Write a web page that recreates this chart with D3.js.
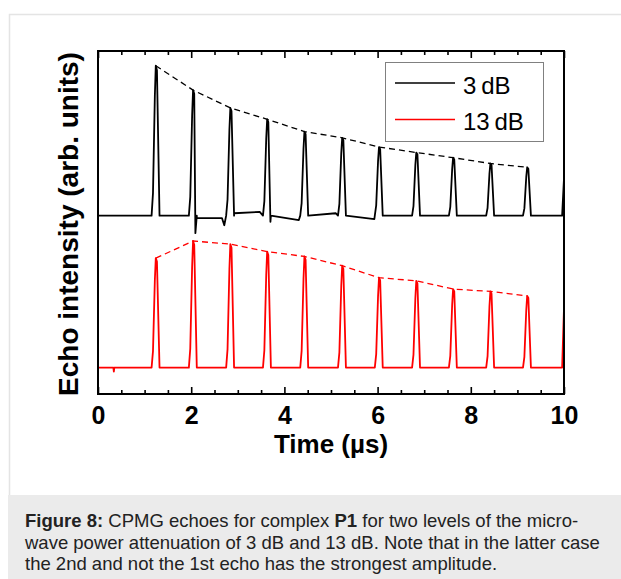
<!DOCTYPE html>
<html lang="en">
<head>
<meta charset="utf-8">
<script src="https://d3js.org/d3.v7.min.js"></script>
<style>
    body { margin: 0; background: #fff; }
    svg { display: block; font-family: "Liberation Sans", Arial, sans-serif; }
</style>
</head>
<body>
<script>

    // Echo positions (µs) and peak heights above each trace's baseline (arb. units)
    const echoTimes = [1.24, 2.04, 2.84, 3.63, 4.43, 5.24, 6.03, 6.83, 7.62, 8.42, 9.21];
    const amp3dB  = [4.37, 3.66, 3.14, 2.81, 2.45, 2.27, 2.00, 1.84, 1.69, 1.52, 1.41];
    const amp13dB = [3.19, 3.69, 3.60, 3.38, 3.24, 2.97, 2.62, 2.53, 2.29, 2.22, 2.09];

    // Baselines of the two (offset) traces
    const base3dB = 5.20;
    const base13dB = 0.77;

    // Pulse profile of one echo: [time offset, fraction of peak]
    const echoShape = [[-0.09, 0], [-0.06, 0.15], [-0.02, 0.8], [0, 1], [0.025, 0.97], [0.08, 0]];

    // Small glitches on the traces: [time, level relative to baseline]
    const glitch3dB = [[2.09, -0.51], [2.12, -0.07], [2.66, -0.07], [2.71, -0.28], [2.92, 0.07],
                       [3.47, 0.11], [3.70, -0.18], [4.31, -0.13], [5.10, 0.07], [5.93, -0.10]];
    const glitch13dB = [[0.33, 0], [0.34, -0.12], [0.35, 0]];

    // Start of the next echo, cut off at the right edge
    const edge3dB = [[9.96, 0], [10, 1.09]];
    const edge13dB = [[9.96, 0], [10, 1.74]];

    const xMajor = [0, 2, 4, 6, 8, 10];
    const xMinor = [0.5, 1, 1.5, 2.5, 3, 3.5, 4.5, 5, 5.5, 6.5, 7, 7.5, 8.5, 9, 9.5];

    const series = [
        {name: "3\u2009dB",  colour: "#000000", base: base3dB,  amps: amp3dB,  glitch: glitch3dB,  edge: edge3dB},
        {name: "13\u2009dB", colour: "#ff0000", base: base13dB, amps: amp13dB, glitch: glitch13dB, edge: edge13dB}
    ];

    const W = 621, H = 579;
    const margin = {top: 51, right: 57, bottom: 185, left: 98};
    const plotW = W - margin.left - margin.right;
    const plotH = H - margin.top - margin.bottom;

    const svg = d3.select("body").append("svg")
        .attr("width", W)
        .attr("height", H);

    // page frame and caption band
    svg.append("path")
        .attr("d", "M9.5,495 V14.5 H621")
        .attr("fill", "none")
        .attr("stroke", "#e4e4e4")
        .attr("stroke-width", 1.5);
    svg.append("rect")
        .attr("x", 8).attr("y", 495)
        .attr("width", W - 8).attr("height", H - 495)
        .attr("fill", "#ebebeb");

    const caption = svg.append("text")
        .attr("x", 25)
        .attr("font-size", 18.5)
        .attr("fill", "#222");
    const capLines = [
        [["Figure 8:", true], [" CPMG echoes for complex ", false], ["P1", true], [" for two levels of the micro-", false]],
        [["wave power attenuation of 3 dB and 13 dB. Note that in the latter case", false]],
        [["the 2nd and not the 1st echo has the strongest amplitude.", false]]
    ];
    capLines.forEach(function(line, i) {
        line.forEach(function(part, j) {
            const t = caption.append("tspan")
                .attr("font-weight", part[1] ? "bold" : "normal")
                .attr("xml:space", "preserve")
                .text(part[0]);
            if (j === 0) t.attr("x", 25).attr("y", 527 + i * 21.7);
        });
    });

    const g = svg.append("g")
        .attr("transform", "translate(" + margin.left + "," + margin.top + ")");

    // scales
    const x = d3.scaleLinear().domain([0, 10]).range([0, plotW]);
    const y = d3.scaleLinear().domain([0, 10]).range([plotH, 0]);

    g.append("clipPath").attr("id", "plotclip")
        .append("rect").attr("width", plotW).attr("height", plotH);

    // build each trace from the echo list
    function tracePoints(s) {
        let pts = [[0, 0]];
        echoTimes.forEach(function(t, i) {
            echoShape.forEach(function(p) {
                pts.push([t + p[0], p[1] * s.amps[i]]);
            });
        });
        pts = pts.concat(s.glitch, s.edge);
        pts.sort(function(a, b) { return a[0] - b[0]; });
        return pts.map(function(p) { return [p[0], s.base + p[1]]; });
    }

    const line = d3.line()
        .x(function(d) { return x(d[0]); })
        .y(function(d) { return y(d[1]); });

    const plot = g.append("g").attr("clip-path", "url(#plotclip)");

    series.forEach(function(s) {
        plot.append("path")
            .datum(tracePoints(s))
            .attr("d", line)
            .attr("fill", "none")
            .attr("stroke", s.colour)
            .attr("stroke-width", 1.8)
            .attr("stroke-linejoin", "round");

        // dashed envelope through the echo maxima
        plot.append("path")
            .datum(echoTimes.map(function(t, i) { return [t, s.base + s.amps[i]]; }))
            .attr("d", line)
            .attr("fill", "none")
            .attr("stroke", s.colour)
            .attr("stroke-width", 1.3)
            .attr("stroke-dasharray", "6,4");
    });

    // axes: ticks inward on bottom and top
    const fontTick = 25;
    function styleTicks(a) {
        a.select(".domain").remove();
        a.selectAll("line").attr("stroke", "#000").attr("stroke-width", 1.6);
    }
    g.append("g")
        .attr("class", "xaxis")
        .attr("transform", "translate(0," + plotH + ")")
        .call(d3.axisBottom(x).tickValues(xMajor).tickSize(-7).tickPadding(12).tickFormat(d3.format("d")))
        .call(styleTicks)
        .call(function(a) {
            a.selectAll("text").attr("font-size", fontTick).attr("font-weight", "bold")
                .attr("fill", "#000").attr("font-family", "Liberation Sans, Arial, sans-serif");
        });
    g.append("g")
        .attr("transform", "translate(0," + plotH + ")")
        .call(d3.axisBottom(x).tickValues(xMinor).tickSize(-4).tickFormat(""))
        .call(styleTicks);
    g.append("g")
        .call(d3.axisTop(x).tickValues(xMajor).tickSize(-7).tickFormat(""))
        .call(styleTicks);
    g.append("g")
        .call(d3.axisTop(x).tickValues(xMinor).tickSize(-4).tickFormat(""))
        .call(styleTicks);

    // frame
    g.append("rect")
        .attr("width", plotW)
        .attr("height", plotH)
        .attr("fill", "none")
        .attr("stroke", "#000")
        .attr("stroke-width", 2);

    // axis titles
    g.append("text")
        .attr("x", plotW / 2)
        .attr("y", plotH + 59)
        .attr("text-anchor", "middle")
        .attr("font-size", 26)
        .attr("font-weight", "bold")
        .text("Time (\u00b5s)");

    g.append("text")
        .attr("transform", "translate(-20," + (173) + ") rotate(-90)")
        .attr("text-anchor", "middle")
        .attr("font-size", 28)
        .attr("font-weight", "bold")
        .text("Echo intensity (arb. units)");

    // legend
    const legend = g.append("g")
        .attr("transform", "translate(" + (385 - margin.left) + "," + (62 - margin.top) + ")");
    legend.append("rect")
        .attr("x", 0.5).attr("y", 0.5)
        .attr("width", 158).attr("height", 79)
        .attr("fill", "#fff")
        .attr("stroke", "#808080")
        .attr("stroke-width", 1);
    series.forEach(function(s, i) {
        const row = legend.append("g").attr("transform", "translate(0," + (21 + i * 36.5) + ")");
        row.append("line")
            .attr("x1", 10).attr("x2", 70)
            .attr("stroke", s.colour)
            .attr("stroke-width", 1.5);
        row.append("text")
            .attr("x", 78)
            .attr("y", 10.5)
            .attr("font-size", 24)
            .text(s.name);
    });

</script>
</body>
</html>
